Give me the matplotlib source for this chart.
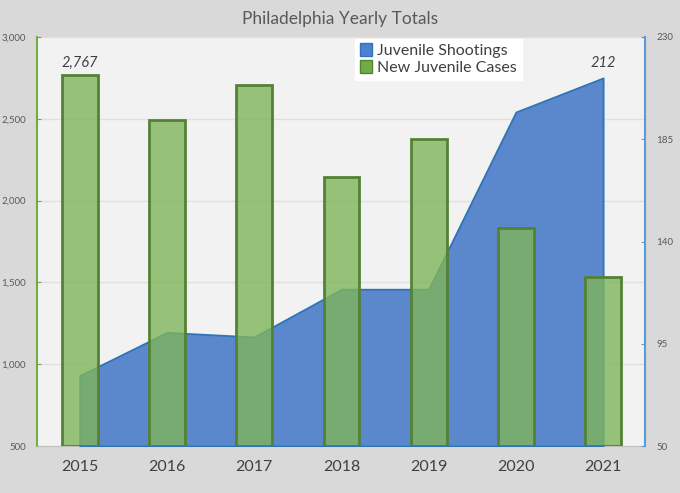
import matplotlib.pyplot as plt
from matplotlib.colors import to_rgba
from matplotlib.patches import Patch

years = ['2015', '2016', '2017', '2018', '2019', '2020', '2021']
new_cases = [2767, 2495, 2705, 2145, 2375, 1830, 1530]
shootings = [81, 100, 98, 119, 119, 197, 212]

left_ticks = [500, 1000, 1500, 2000, 2500, 3000]
right_ticks = [50, 95, 140, 185, 230]

plt.rcParams['font.family'] = ['Lato', 'DejaVu Sans']

fig = plt.figure(figsize=(6.8, 4.93), dpi=100)
fig.patch.set_facecolor('#d9d9d9')

rect = [37 / 680, 47 / 493, 608 / 680, 409 / 493]
x = list(range(len(years)))

# bottom layer: background + gridlines + left axis
ax1 = fig.add_axes(rect)
ax1.set_facecolor('#f2f2f2')
ax1.set_xlim(-0.49, 6.48)
ax1.set_ylim(500, 3000)
ax1.set_yticks(left_ticks)
ax1.set_yticklabels([f'{v:,}' for v in left_ticks], fontsize=7, color='#595959')
ax1.set_xticks(x)
ax1.set_xticklabels(years, fontsize=11.5, color='#404040')
ax1.tick_params(axis='x', length=0, pad=10)
ax1.tick_params(axis='y', length=3, direction='in', color='#70ad47', pad=8)
ax1.grid(axis='y', color='#e0e0e0', linewidth=1)
ax1.set_axisbelow(True)
for s in ['top', 'right']:
    ax1.spines[s].set_visible(False)
ax1.spines['left'].set_color('#70ad47')
ax1.spines['left'].set_linewidth(1.5)
ax1.spines['bottom'].set_color('#bfbfbf')

# middle layer: shootings area on right axis
ax2 = ax1.twinx()
ax2.set_ylim(50, 230)
ax2.fill_between(x, shootings, 50, facecolor='#5b87cc', edgecolor='#2e75b6', linewidth=1.3)
ax2.set_yticks(right_ticks)
ax2.set_yticklabels([str(v) for v in right_ticks], fontsize=7, color='#595959')
ax2.tick_params(axis='y', length=3, direction='in', color='#5b9bd5', pad=8)
for s in ['top', 'left', 'bottom']:
    ax2.spines[s].set_visible(False)
ax2.spines['right'].set_color('#5b9bd5')
ax2.spines['right'].set_linewidth(1.5)
ax2.annotate(f'{shootings[-1]}', (x[-1], shootings[-1]), xytext=(0, 6),
             textcoords='offset points', ha='center', va='bottom',
             fontsize=10.5, style='italic', color='#404040')

# top layer: new cases bars
ax3 = ax1.twinx()
ax3.set_ylim(500, 3000)
ax3.axis('off')
ax3.bar(x, [v - 500 for v in new_cases], bottom=500, width=0.41,
        facecolor=to_rgba('#7fb55a', 0.8), edgecolor='#548235', linewidth=2)
ax3.annotate(f'{new_cases[0]:,}', (x[0], new_cases[0]), xytext=(0, 4),
             textcoords='offset points', ha='center', va='bottom',
             fontsize=10.5, style='italic', color='#404040')

handles = [Patch(facecolor='#4f7fcf', edgecolor='#2e75b6', label='Juvenile Shootings'),
           Patch(facecolor='#70ad47', edgecolor='#548235', label='New Juvenile Cases')]
leg = ax3.legend(handles=handles, loc='upper left', bbox_to_anchor=(0.52, 1.0),
                 fontsize=11.5, frameon=True, fancybox=False, borderpad=0.3,
                 handlelength=0.8, handleheight=0.8, handletextpad=0.3,
                 labelspacing=0.15, borderaxespad=0.1, labelcolor='#404040')
leg.get_frame().set_facecolor('white')
leg.get_frame().set_edgecolor('white')
leg.get_frame().set_alpha(1)

fig.text(0.5, 0.962, 'Philadelphia Yearly Totals', ha='center', va='center',
         fontsize=12.5, color='#595959')

fig.savefig('out.png', dpi=100, facecolor=fig.get_facecolor())
